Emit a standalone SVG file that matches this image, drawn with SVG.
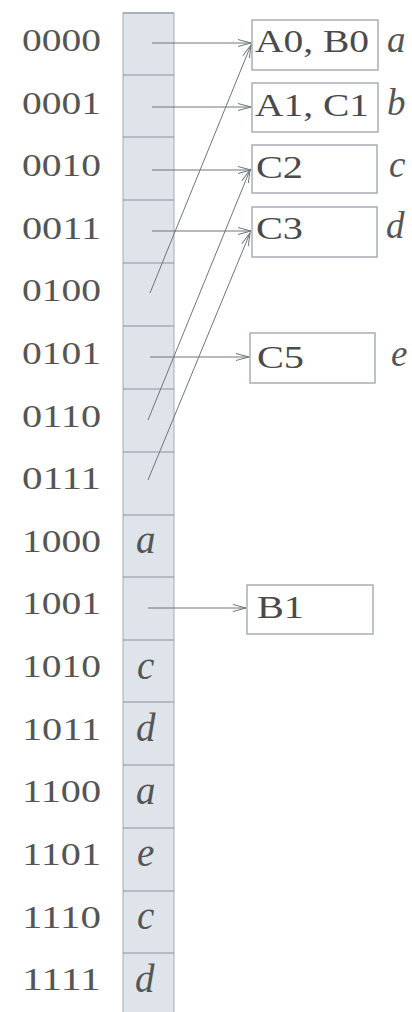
<svg xmlns="http://www.w3.org/2000/svg" width="412" height="1012" viewBox="0 0 412 1012">
<defs>
<marker id="ah" markerUnits="userSpaceOnUse" markerWidth="16" markerHeight="10" refX="13" refY="4" orient="auto">
<path d="M0,0.5 L13,4 L0,7.5" fill="none" stroke="#6f757c" stroke-width="1"/>
</marker>
</defs>
<style>
.lbl{font-family:"Liberation Serif",serif;font-size:32px;fill:#555555}
.bx{fill:#ffffff;stroke:#a9adb2;stroke-width:1.5}
.bt{font-family:"Liberation Serif",serif;font-size:32px;fill:#4a4a4a}
.it{font-family:"Liberation Serif",serif;font-style:italic;font-size:37px;fill:#555}
.div{stroke:#8d949c;stroke-width:1.2}
.cn{stroke:#6f757c;stroke-width:1;fill:none;marker-end:url(#ah)}
</style>
<rect width="412" height="1012" fill="#ffffff"/>
<g id="table">
<rect x="123" y="13" width="51" height="1000" fill="#dfe3ea" stroke="#a4aab2" stroke-width="1"/>
<g class="div">
<line x1="123" y1="13" x2="174" y2="13"/>
<line x1="123" y1="75" x2="174" y2="75"/>
<line x1="123" y1="137" x2="174" y2="137"/>
<line x1="123" y1="200" x2="174" y2="200"/>
<line x1="123" y1="263" x2="174" y2="263"/>
<line x1="123" y1="326" x2="174" y2="326"/>
<line x1="123" y1="389" x2="174" y2="389"/>
<line x1="123" y1="452" x2="174" y2="452"/>
<line x1="123" y1="515" x2="174" y2="515"/>
<line x1="123" y1="577" x2="174" y2="577"/>
<line x1="123" y1="640" x2="174" y2="640"/>
<line x1="123" y1="702" x2="174" y2="702"/>
<line x1="123" y1="765" x2="174" y2="765"/>
<line x1="123" y1="828" x2="174" y2="828"/>
<line x1="123" y1="891" x2="174" y2="891"/>
<line x1="123" y1="953" x2="174" y2="953"/>
</g>
<g class="it">
<text x="136" y="553" style="font-size:39px">a</text>
<text x="137" y="679" style="font-size:39px">c</text>
<text x="136" y="741" style="font-size:39px">d</text>
<text x="136" y="804" style="font-size:39px">a</text>
<text x="137" y="866" style="font-size:39px">e</text>
<text x="137" y="929" style="font-size:39px">c</text>
<text x="135" y="992" style="font-size:39px">d</text>
</g>
</g>
<g id="labels" class="lbl">
<text x="22" y="51" textLength="79" lengthAdjust="spacingAndGlyphs">0000</text>
<text x="22" y="114" textLength="79" lengthAdjust="spacingAndGlyphs">0001</text>
<text x="22" y="176" textLength="79" lengthAdjust="spacingAndGlyphs">0010</text>
<text x="22" y="239" textLength="79" lengthAdjust="spacingAndGlyphs">0011</text>
<text x="22" y="301" textLength="79" lengthAdjust="spacingAndGlyphs">0100</text>
<text x="22" y="364" textLength="79" lengthAdjust="spacingAndGlyphs">0101</text>
<text x="22" y="427" textLength="79" lengthAdjust="spacingAndGlyphs">0110</text>
<text x="22" y="489" textLength="79" lengthAdjust="spacingAndGlyphs">0111</text>
<text x="22" y="552" textLength="79" lengthAdjust="spacingAndGlyphs">1000</text>
<text x="22" y="614" textLength="79" lengthAdjust="spacingAndGlyphs">1001</text>
<text x="22" y="677" textLength="79" lengthAdjust="spacingAndGlyphs">1010</text>
<text x="22" y="740" textLength="79" lengthAdjust="spacingAndGlyphs">1011</text>
<text x="22" y="802" textLength="79" lengthAdjust="spacingAndGlyphs">1100</text>
<text x="22" y="865" textLength="79" lengthAdjust="spacingAndGlyphs">1101</text>
<text x="22" y="928" textLength="79" lengthAdjust="spacingAndGlyphs">1110</text>
<text x="22" y="990" textLength="79" lengthAdjust="spacingAndGlyphs">1111</text>
</g>
<g id="box-a">
<rect class="bx" x="252" y="20" width="126" height="50"/>
<text class="bt" x="255" y="52" textLength="114" lengthAdjust="spacingAndGlyphs">A0, B0</text>
<text class="it" x="387" y="52">a</text>
</g>
<g id="box-b">
<rect class="bx" x="252" y="83" width="126" height="49"/>
<text class="bt" x="255" y="116" textLength="114" lengthAdjust="spacingAndGlyphs">A1, C1</text>
<text class="it" x="387" y="115">b</text>
</g>
<g id="box-c">
<rect class="bx" x="252" y="145" width="125" height="48"/>
<text class="bt" x="256" y="178" textLength="47" lengthAdjust="spacingAndGlyphs">C2</text>
<text class="it" x="389" y="177">c</text>
</g>
<g id="box-d">
<rect class="bx" x="252" y="207" width="125" height="50"/>
<text class="bt" x="256" y="239" textLength="47" lengthAdjust="spacingAndGlyphs">C3</text>
<text class="it" x="386" y="238">d</text>
</g>
<g id="box-e">
<rect class="bx" x="250" y="333" width="125" height="50"/>
<text class="bt" x="257" y="368" textLength="47" lengthAdjust="spacingAndGlyphs">C5</text>
<text class="it" x="391" y="366">e</text>
</g>
<g id="box-b1">
<rect class="bx" x="247" y="585" width="126" height="49"/>
<text class="bt" x="257" y="618" textLength="47" lengthAdjust="spacingAndGlyphs">B1</text>
</g>
<g id="connectors">
<line class="cn" x1="152" y1="43" x2="251" y2="43"/>
<line class="cn" x1="152" y1="107" x2="251" y2="107"/>
<line class="cn" x1="152" y1="170" x2="251" y2="170"/>
<line class="cn" x1="152" y1="231" x2="251" y2="231"/>
<line class="cn" x1="150" y1="357" x2="249" y2="357"/>
<line class="cn" x1="148" y1="608" x2="246" y2="608"/>
<line class="cn" x1="150" y1="293" x2="251" y2="45"/>
<line class="cn" x1="148" y1="420" x2="250" y2="170"/>
<line class="cn" x1="148" y1="480" x2="250" y2="233"/>
</g>
</svg>
